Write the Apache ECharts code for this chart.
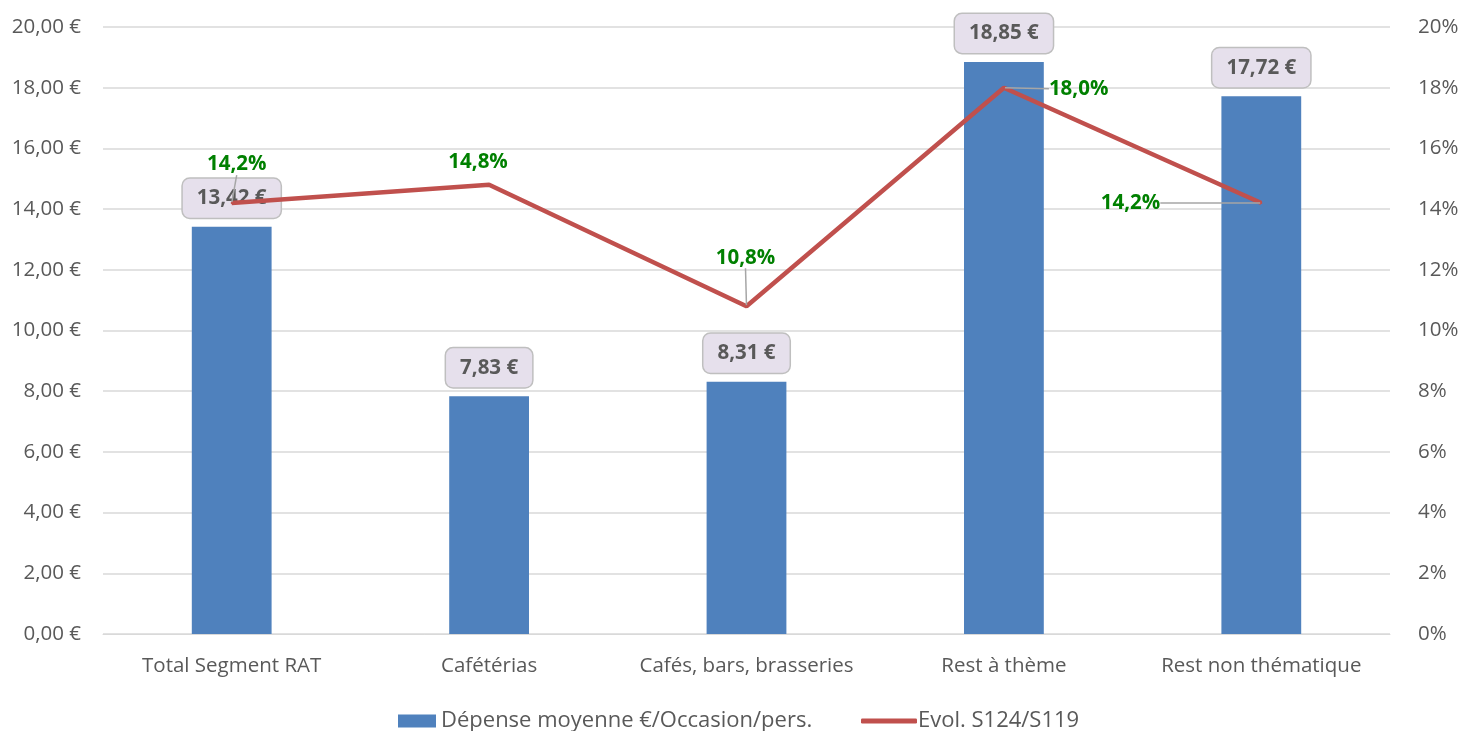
<!DOCTYPE html>
<html>
<head>
<meta charset="utf-8">
<script src="https://cdn.jsdelivr.net/npm/echarts@6/dist/echarts.min.js"></script>
<style>html,body{margin:0;padding:0;background:#fff}#c{width:1477px;height:731px}</style>
</head>
<body>
<div id="c"></div>
<script>
const categories = ['Total Segment RAT', 'Cafétérias', 'Cafés, bars, brasseries', 'Rest à thème', 'Rest non thématique'];
const depense = [13.42, 7.83, 8.31, 18.85, 17.72];
const evolution = [14.2, 14.8, 10.8, 18.0, 14.2];
const seriesNames = ['Dépense moyenne €/Occasion/pers.', 'Evol. S124/S119'];

const FONT = '"Open Sans", "Noto Sans", sans-serif';
const fr = (v, d) => v.toFixed(d).replace('.', ',');

// label placements for the line labels (style only)
const linePos = ['top', 'top', 'top', 'right', 'left'];
const lineShift = [[5, -22], [-11, -6], [-1, -32], [39, 1], [-95, 0]];
const lineLeader = [true, false, true, true, true];

const chart = echarts.init(document.getElementById('c'));
chart.setOption({
  animation: false,
  textStyle: { fontFamily: FONT },
  grid: { left: 103, right: 87, top: 27, bottom: 97, containLabel: false },
  legend: [
    {
      top: 705,
      left: 393,
      itemWidth: 38,
      itemHeight: 13,
      textStyle: { fontFamily: FONT, fontSize: 22, color: '#595959' },
      data: [{ name: seriesNames[0], icon: 'rect' }]
    },
    {
      top: 705,
      left: 856,
      itemWidth: 56,
      itemHeight: 5,
      itemGap: 0,
      textStyle: { fontFamily: FONT, fontSize: 22, color: '#595959', padding: [0, 0, 0, -4] },
      data: [{ name: seriesNames[1], icon: 'roundRect' }]
    }
  ],
  xAxis: {
    type: 'category',
    data: categories,
    axisTick: { show: false },
    axisLine: { lineStyle: { color: '#D9D9D9' } },
    axisLabel: { color: '#595959', fontSize: 20.5, margin: 22, fontFamily: FONT, interval: 0 }
  },
  yAxis: [
    {
      type: 'value', min: 0, max: 20, interval: 2,
      axisLabel: { color: '#595959', fontSize: 20.5, margin: 22, fontFamily: FONT,
        formatter: v => fr(v, 2) + ' €' },
      splitLine: { lineStyle: { color: '#D9D9D9', width: 1.5 } },
      axisLine: { show: false }, axisTick: { show: false }
    },
    {
      type: 'value', min: 0, max: 20, interval: 2,
      axisLabel: { color: '#595959', fontSize: 20.5, margin: 28, fontFamily: FONT,
        formatter: v => v + '%' },
      splitLine: { show: false },
      axisLine: { show: false }, axisTick: { show: false }
    }
  ],
  series: [
    {
      name: seriesNames[0],
      type: 'bar',
      yAxisIndex: 0,
      barWidth: '31%',
      data: depense,
      itemStyle: { color: '#4F81BD' },
      label: {
        show: true,
        position: 'top',
        distance: 9,
        formatter: p => fr(p.value, 2) + ' €',
        fontFamily: FONT,
        fontSize: 20.5,
        fontWeight: 'bold',
        color: '#595959',
        backgroundColor: '#E6E0EC',
        borderColor: '#BFBFBF',
        borderWidth: 1.5,
        borderRadius: 7,
        padding: [9, 14, 9, 14]
      }
    },
    {
      name: seriesNames[1],
      type: 'line',
      yAxisIndex: 1,
      symbol: 'circle',
      symbolSize: 2,
      lineStyle: { color: '#C0504D', width: 4.5 },
      itemStyle: { color: '#C0504D' },
      data: evolution.map((v, i) => ({
        value: v,
        label: { position: linePos[i] },
        labelLine: { show: lineLeader[i] }
      })),
      label: {
        show: true,
        distance: 5,
        formatter: p => fr(p.value, 1) + '%',
        fontFamily: FONT,
        fontSize: 20.5,
        fontWeight: 'bold',
        color: '#008000'
      },
      labelLine: { show: true, lineStyle: { color: '#A6A6A6', width: 1.5 } },
      labelLayout: p => ({ dx: lineShift[p.dataIndex][0], dy: lineShift[p.dataIndex][1] })
    }
  ]
});
</script>
</body>
</html>
